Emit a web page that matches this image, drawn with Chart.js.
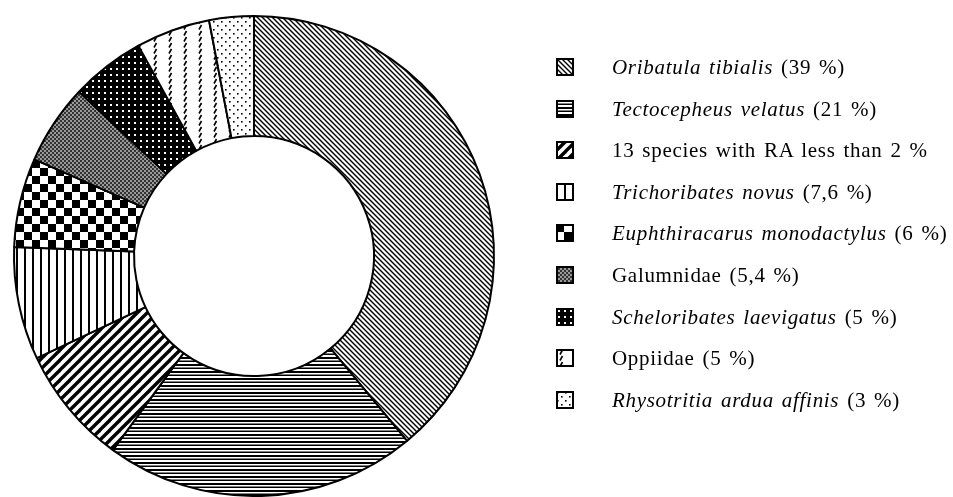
<!DOCTYPE html>
<html><head><meta charset="utf-8">
<script src="https://cdn.jsdelivr.net/npm/chart.js@4.4.1/dist/chart.umd.min.js"></script>
<style>
html,body{margin:0;padding:0;background:#fff;}
#wrap{position:relative;width:953px;height:497px;overflow:hidden;background:#fff;}
#c{position:absolute;left:0;top:0;}
#legend{position:absolute;left:0;top:0;width:953px;height:497px;font-family:"Liberation Serif","Times New Roman",serif;font-size:21px;letter-spacing:0.7px;word-spacing:2px;color:#000;}
.sw{position:absolute;left:556px;}
.tx{position:absolute;left:612px;white-space:nowrap;line-height:24px;}
</style></head>
<body><div id="wrap"><canvas id="c" width="953" height="497"></canvas><div id="legend"></div></div>
<script>
const categories = ["Oribatula tibialis", "Tectocepheus velatus", "13 species with RA less than 2 %", "Trichoribates novus", "Euphthiracarus monodactylus", "Galumnidae", "Scheloribates laevigatus", "Oppiidae", "Rhysotritia ardua affinis"];
const italicNames = [true, true, false, true, true, false, true, false, true];
const shareLabels = ["(39 %)", "(21 %)", "", "(7,6 %)", "(6 %)", "(5,4 %)", "(5 %)", "(5 %)", "(3 %)"];
const shareValues = [39, 21, 8, 7.6, 6, 5.4, 5, 5, 3];

function tile(w, h, draw) {
  const c = document.createElement('canvas');
  c.width = w; c.height = h;
  const g = c.getContext('2d');
  g.fillStyle = '#fff'; g.fillRect(0, 0, w, h);
  g.fillStyle = '#000'; g.strokeStyle = '#000';
  draw(g, w, h);
  return c;
}
function diag(g, s, lw, back) {
  g.lineWidth = lw; g.lineCap = 'butt';
  for (let k = -1; k <= 1; k++) {
    g.beginPath();
    if (back) { g.moveTo(k * s - 1, -1); g.lineTo(k * s + s + 1, s + 1); }
    else { g.moveTo(k * s - 1, s + 1); g.lineTo(k * s + s + 1, -1); }
    g.stroke();
  }
}
const tileMakers = [
  () => tile(5, 5, g => diag(g, 5, 1.4, true)),
  () => tile(8, 7, g => { g.fillRect(0, 0, 8, 2); g.fillRect(0, 3.5, 8, 1.5); }),
  () => tile(10, 10, g => diag(g, 10, 3.4, false)),
  () => tile(8, 8, g => { g.fillRect(0, 0, 2, 8); }),
  () => tile(16, 16, g => { g.fillRect(0, 0, 8, 8); g.fillRect(8, 8, 8, 8); }),
  () => tile(4, 4, g => { g.fillStyle = '#333'; g.fillRect(0, 0, 2, 2); g.fillRect(2, 2, 2, 2); g.fillStyle = '#999'; g.fillRect(2, 0, 2, 2); g.fillRect(0, 2, 2, 2); }),
  () => tile(6, 6, g => { g.fillRect(0, 0, 6, 6); g.fillStyle = '#fff'; g.fillRect(2, 2, 2, 2); }),
  () => tile(15, 6, g => { g.lineWidth = 1.6; g.beginPath(); g.moveTo(4, 5.5); g.lineTo(6.5, 1); g.stroke(); }),
  () => tile(8, 8, g => { g.fillRect(1, 1, 1.6, 1.6); g.fillRect(5, 5, 1.6, 1.6); })
];
const cv = document.getElementById('c');
const ctx = cv.getContext('2d');
const patterns = tileMakers.map(m => ctx.createPattern(m(), 'repeat'));

new Chart(ctx, {
  type: 'doughnut',
  data: { labels: categories, datasets: [{ data: shareValues, backgroundColor: patterns, borderColor: '#000', borderWidth: 2 }] },
  options: {
    responsive: false, animation: false, cutout: '50%',
    layout: { padding: { left: 13, top: 15, right: 458, bottom: 0 } },
    plugins: { legend: { display: false }, tooltip: { enabled: false } }
  }
});

const leg = document.getElementById('legend');
categories.forEach((name, i) => {
  const cy = 67 + i * 41.6;
  const sc = document.createElement('canvas');
  sc.width = 18; sc.height = 18; sc.className = 'sw';
  sc.style.top = (cy - 9) + 'px';
  const sg = sc.getContext('2d');
  sg.fillStyle = sg.createPattern(tileMakers[i](), 'repeat');
  sg.fillRect(0, 0, 18, 18);
  sg.strokeStyle = '#000'; sg.lineWidth = 2; sg.strokeRect(1, 1, 16, 16);
  leg.appendChild(sc);
  const t = document.createElement('div');
  t.className = 'tx'; t.style.top = (cy - 12) + 'px';
  const n = document.createElement('span');
  n.textContent = name;
  if (italicNames[i]) n.style.fontStyle = 'italic';
  t.appendChild(n);
  if (shareLabels[i]) t.appendChild(document.createTextNode(' ' + shareLabels[i]));
  leg.appendChild(t);
});
</script></body></html>
